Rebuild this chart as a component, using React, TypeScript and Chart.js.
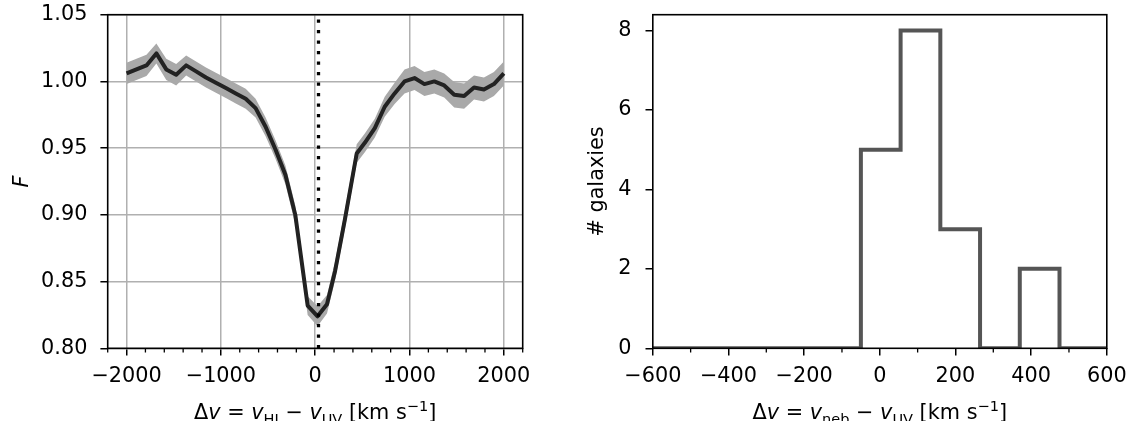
import React, { useEffect, useRef } from 'react';
import { Chart, registerables } from 'chart.js';

Chart.register(...registerables);

const FONT = '"DejaVu Sans", "Liberation Sans", sans-serif';
const FS = 20.8;

// ---------- Left panel: stacked flux profile ----------
const velocities = [
  -2000, -1895, -1789, -1684, -1579, -1474, -1368, -1263, -1158, -1053,
  -947, -842, -737, -632, -526, -421, -316, -211, -80, 25,
  125, 211, 316, 440, 526, 632, 737, 842, 947, 1053,
  1158, 1263, 1368, 1474, 1579, 1684, 1789, 1895, 2000,
];
const fluxMean = [
  1.006, 1.009, 1.012, 1.021, 1.009, 1.005, 1.012, 1.0075, 1.003, 0.999,
  0.995, 0.991, 0.987, 0.980, 0.966, 0.949, 0.930, 0.900, 0.832, 0.824,
  0.833, 0.858, 0.897, 0.946, 0.954, 0.965, 0.981, 0.991, 1.000, 1.0025,
  0.998, 1.000, 0.997, 0.990, 0.989, 0.9955, 0.994, 0.998, 1.006,
];
const fluxErr = [
  0.008, 0.008, 0.008, 0.0075, 0.008, 0.008, 0.0075, 0.0075, 0.0075, 0.0075,
  0.0075, 0.0075, 0.0075, 0.007, 0.007, 0.007, 0.007, 0.007, 0.007, 0.0075,
  0.007, 0.007, 0.007, 0.007, 0.007, 0.007, 0.0075, 0.008, 0.009, 0.009,
  0.009, 0.009, 0.009, 0.0095, 0.0095, 0.009, 0.009, 0.009, 0.009,
];
const markerVelocity = [35];
const velRange = [-2200, 2200];
const fluxRange = [0.8, 1.05];
const velTicks = [-2000, -1000, 0, 1000, 2000];
const velMinorTicks = [
  -2200, -1800, -1600, -1400, -1200, -800, -600, -400, -200,
  200, 400, 600, 800, 1200, 1400, 1600, 1800, 2200,
];
const fluxTicks = [0.8, 0.85, 0.9, 0.95, 1.0, 1.05];

// ---------- Right panel: histogram of velocity offsets ----------
const binEdges = [-50, 55, 160, 265, 370, 475];
const galaxyCounts = [5, 8, 3, 0, 2];
const offsetRange = [-600, 600];
const countRange = [0, 8.4];
const offsetTicks = [-600, -400, -200, 0, 200, 400, 600];
const offsetMinorTicks = [-500, -300, -100, 100, 300, 500];
const countTicks = [0, 2, 4, 6, 8];

type Piece = { t: string; i?: boolean; sub?: boolean; sup?: boolean };

const leftXTitle: Piece[] = [
  { t: 'Δ' }, { t: 'v', i: true }, { t: ' = ' }, { t: 'v', i: true }, { t: 'HI', sub: true },
  { t: ' − ' }, { t: 'v', i: true }, { t: 'UV', sub: true }, { t: ' [km s' }, { t: '−1', sup: true }, { t: ']' },
];
const rightXTitle: Piece[] = [
  { t: 'Δ' }, { t: 'v', i: true }, { t: ' = ' }, { t: 'v', i: true }, { t: 'neb', sub: true },
  { t: ' − ' }, { t: 'v', i: true }, { t: 'UV', sub: true }, { t: ' [km s' }, { t: '−1', sup: true }, { t: ']' },
];

function pieceFont(p: Piece) {
  const size = p.sub || p.sup ? FS * 0.7 : FS;
  return `${p.i ? 'italic ' : ''}${size}px ${FONT}`;
}

function drawRich(ctx: CanvasRenderingContext2D, pieces: Piece[], cx: number, baseline: number) {
  let total = 0;
  const widths = pieces.map((p) => {
    ctx.font = pieceFont(p);
    const w = ctx.measureText(p.t).width;
    total += w;
    return w;
  });
  let x = cx - total / 2;
  ctx.textAlign = 'left';
  ctx.textBaseline = 'alphabetic';
  pieces.forEach((p, k) => {
    ctx.font = pieceFont(p);
    const y = baseline + (p.sub ? FS * 0.22 : p.sup ? -FS * 0.4 : 0);
    ctx.fillText(p.t, x, y);
    x += widths[k];
  });
}

type FrameCfg = {
  minorX: number[];
  xTitle: Piece[];
  titleBaseline: number;
  yTitle: string;
  yTitleItalic: boolean;
  yTitleX: number;
};

function makeFrame(cfg: FrameCfg) {
  return {
    id: 'frame',
    afterDraw(chart: any) {
      const { ctx, chartArea: a } = chart;
      const xs = chart.scales.x;
      ctx.save();
      ctx.strokeStyle = '#000';
      ctx.lineWidth = 1.3;
      ctx.beginPath();
      for (const v of cfg.minorX) {
        const px = xs.getPixelForValue(v);
        ctx.moveTo(px, a.bottom);
        ctx.lineTo(px, a.bottom + 4.2);
      }
      ctx.stroke();
      ctx.lineWidth = 1.6;
      ctx.strokeRect(a.left, a.top, a.right - a.left, a.bottom - a.top);
      ctx.fillStyle = '#000';
      drawRich(ctx, cfg.xTitle, (a.left + a.right) / 2, cfg.titleBaseline);
      ctx.translate(cfg.yTitleX, (a.top + a.bottom) / 2);
      ctx.rotate(-Math.PI / 2);
      ctx.font = `${cfg.yTitleItalic ? 'italic ' : ''}${FS}px ${FONT}`;
      ctx.textAlign = 'center';
      ctx.textBaseline = 'middle';
      ctx.fillText(cfg.yTitle, 0, 0);
      ctx.restore();
    },
  };
}

const fmt = (v: number) => String(v).replace('-', '\u2212');
const tickFont = { family: FONT, size: FS };

function axisCommon(ticks: number[], grid: boolean, fitKey: 'width' | 'height', fitVal: number, cb: (v: number) => string, pad: number) {
  return {
    type: 'linear' as const,
    afterBuildTicks: (s: any) => {
      s.ticks = ticks.map((value) => ({ value }));
    },
    afterFit: (s: any) => {
      s[fitKey] = fitVal;
      s.paddingTop = 0;
      s.paddingBottom = 0;
      s.paddingLeft = 0;
      s.paddingRight = 0;
    },
    border: { display: false },
    grid: {
      drawOnChartArea: grid,
      color: '#b0b0b0',
      lineWidth: 1.5,
      drawTicks: true,
      tickLength: 7.3,
      tickWidth: 1.5,
      tickColor: '#000',
    },
    ticks: {
      callback: (v: any) => cb(Number(v)),
      padding: pad,
      maxRotation: 0,
      minRotation: 0,
      autoSkip: false,
      color: '#000',
      font: tickFont,
    },
  };
}

export default function App() {
  const leftRef = useRef<HTMLCanvasElement>(null);
  const rightRef = useRef<HTMLCanvasElement>(null);

  useEffect(() => {
    const upper = velocities.map((v, k) => ({ x: v, y: fluxMean[k] + fluxErr[k] }));
    const lower = velocities.map((v, k) => ({ x: v, y: fluxMean[k] - fluxErr[k] }));
    const mean = velocities.map((v, k) => ({ x: v, y: fluxMean[k] }));
    const marker = [
      { x: markerVelocity[0], y: fluxRange[0] },
      { x: markerVelocity[0], y: fluxRange[1] },
    ];

    const left = new Chart(leftRef.current!, {
      type: 'line',
      data: {
        datasets: [
          {
            data: marker,
            borderColor: '#000',
            borderWidth: 3.3,
            borderDash: [3.3, 7.2],
            borderCapStyle: 'butt',
            pointRadius: 0,
            fill: false,
            order: 0,
          },
          {
            data: mean,
            borderColor: '#222222',
            borderWidth: 4,
            pointRadius: 0,
            fill: false,
            tension: 0,
            borderJoinStyle: 'round',
            order: 1,
          },
          {
            data: upper,
            borderColor: 'rgba(0,0,0,0)',
            borderWidth: 0,
            backgroundColor: '#a9a9a9',
            pointRadius: 0,
            fill: '+1',
            order: 2,
          },
          {
            data: lower,
            borderColor: 'rgba(0,0,0,0)',
            borderWidth: 0,
            pointRadius: 0,
            fill: false,
            order: 3,
          },
        ],
      } as any,
      options: {
        animation: false,
        responsive: false,
        devicePixelRatio: 1,
        events: [],
        layout: { padding: { left: 0, right: 37.3, top: 14.7, bottom: 0 } },
        plugins: { legend: { display: false }, tooltip: { enabled: false } },
        scales: {
          x: { ...axisCommon(velTicks, true, 'height', 72.7, fmt, 9), min: velRange[0], max: velRange[1] },
          y: { ...axisCommon(fluxTicks, true, 'width', 107.7, (v) => v.toFixed(2), 13), min: fluxRange[0], max: fluxRange[1] },
        },
      } as any,
      plugins: [
        makeFrame({
          minorX: velMinorTicks,
          xTitle: leftXTitle,
          titleBaseline: 419,
          yTitle: 'F',
          yTitleItalic: true,
          yTitleX: 23,
        }),
      ],
    });

    const histPts: { x: number; y: number }[] = [{ x: offsetRange[0], y: 0 }];
    let prev = 0;
    for (let k = 0; k < galaxyCounts.length; k++) {
      histPts.push({ x: binEdges[k], y: prev });
      histPts.push({ x: binEdges[k], y: galaxyCounts[k] });
      prev = galaxyCounts[k];
    }
    const last = binEdges[binEdges.length - 1];
    histPts.push({ x: last, y: prev }, { x: last, y: 0 }, { x: offsetRange[1], y: 0 });

    const right = new Chart(rightRef.current!, {
      type: 'line',
      data: {
        datasets: [
          {
            data: histPts,
            borderColor: '#555555',
            borderWidth: 4,
            borderJoinStyle: 'miter',
            borderCapStyle: 'butt',
            pointRadius: 0,
            fill: false,
            tension: 0,
          },
        ],
      } as any,
      options: {
        animation: false,
        responsive: false,
        devicePixelRatio: 1,
        events: [],
        layout: { padding: { left: 0, right: 21.2, top: 14.7, bottom: 0 } },
        plugins: { legend: { display: false }, tooltip: { enabled: false } },
        scales: {
          x: { ...axisCommon(offsetTicks, false, 'height', 72.7, fmt, 9), min: offsetRange[0], max: offsetRange[1] },
          y: { ...axisCommon(countTicks, false, 'width', 92.8, (v) => String(v), 14), min: countRange[0], max: countRange[1] },
        },
      } as any,
      plugins: [
        makeFrame({
          minorX: offsetMinorTicks,
          xTitle: rightXTitle,
          titleBaseline: 419,
          yTitle: '# galaxies',
          yTitleItalic: false,
          yTitleX: 38,
        }),
      ],
    });

    return () => {
      left.destroy();
      right.destroy();
    };
  }, []);

  return (
    <div style={{ position: 'absolute', left: 0, top: 0, width: 1128, height: 421, background: '#fff', overflow: 'hidden' }}>
      <canvas ref={leftRef} width={560} height={421} style={{ position: 'absolute', left: 0, top: 0 }} />
      <canvas ref={rightRef} width={568} height={421} style={{ position: 'absolute', left: 560, top: 0 }} />
    </div>
  );
}
